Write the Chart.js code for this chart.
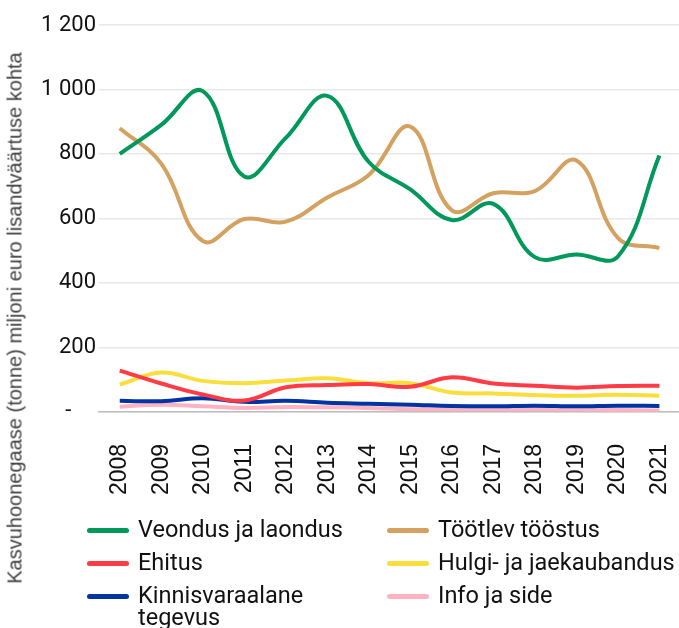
<!DOCTYPE html>
<html>
<head>
<meta charset="utf-8">
<script src="https://cdn.jsdelivr.net/npm/chart.js@4"></script>
<style>
    html, body { margin: 0; padding: 0; background: #fff; overflow: hidden; }
    #wrap { position: relative; width: 679px; height: 628px; overflow: hidden; }
    #chartBox { position: absolute; left: 0; top: 0; width: 719px; height: 527px; }
    #yTitle {
        position: absolute; left: 15px; top: 318px;
        transform: translate(-50%, -50%) rotate(-90deg);
        white-space: nowrap;
        font-family: "Liberation Sans", Arial, sans-serif;
        font-size: 20px; color: #404040;
    }
    #legend {
        position: absolute; left: 87px; top: 518px;
        display: grid; grid-template-columns: 300px 300px; row-gap: 11px;
        font-family: "Roboto", sans-serif;
        font-size: 23.5px; line-height: 22px; color: #111;
    }
    .item { display: flex; align-items: flex-start; }
    .swatch { width: 42px; height: 5px; border-radius: 3px; margin-top: 10px; margin-right: 9px; flex: none; }
    .col1 span { width: 230px; }
    .col2 span { white-space: nowrap; }
</style>
</head>
<body>
<div id="wrap">
    <div id="chartBox"><canvas id="ghgChart"></canvas></div>
    <div id="yTitle">Kasvuhoonegaase (tonne) miljoni euro lisandväärtuse kohta</div>
    <div id="legend"></div>
</div>
<script>
const years = ['2008', '2009', '2010', '2011', '2012', '2013', '2014', '2015', '2016', '2017', '2018', '2019', '2020', '2021'];
const yTickLabels = ['-', '200', '400', '600', '800', '1 000', '1 200'];

const veondus = [800, 890, 995, 730, 850, 980, 775, 690, 595, 645, 480, 488, 482, 795];
const tootlev = [880, 770, 530, 598, 590, 665, 735, 885, 625, 678, 685, 780, 540, 508];
const ehitus = [128, 88, 54, 35, 76, 83, 86, 78, 107, 88, 81, 75, 80, 81];
const kaubandus = [85, 122, 96, 89, 97, 104, 89, 89, 60, 57, 52, 50, 53, 50];
const kinnisvara = [34, 33, 42, 31, 34, 28, 25, 22, 18, 17, 19, 17, 19, 18];
const infoSide = [16, 22, 17, 12, 15, 14, 12, 8, 8, 8, 8, 7, 6, 4];

const seriesNames = ['Veondus ja laondus', 'Töötlev tööstus', 'Ehitus', 'Hulgi- ja jaekaubandus', 'Kinnisvaraalane tegevus', 'Info ja side'];
const seriesData = [veondus, tootlev, ehitus, kaubandus, kinnisvara, infoSide];
const seriesColors = ['#00985B', '#D4A160', '#FF3B45', '#F9DE3C', '#0034A3', '#FFB3C2'];

const datasets = seriesNames.map((name, i) => ({
    label: name,
    data: seriesData[i],
    borderColor: seriesColors[i],
    backgroundColor: seriesColors[i],
    borderWidth: 4,
    pointRadius: 0,
    tension: 0.4,
    fill: false
}));

// green and tan drawn on top of the small series
datasets[0].order = 0;
datasets[1].order = 1;

const ctx = document.getElementById('ghgChart').getContext('2d');
const chart = new Chart(ctx, {
    type: 'line',
    data: { labels: years, datasets: datasets },
    options: {
        responsive: true,
        maintainAspectRatio: false,
        animation: false,
        layout: { padding: { left: 30, top: 25, right: 0, bottom: 0 } },
        plugins: { legend: { display: false }, tooltip: { enabled: false } },
        scales: {
            x: {
                offset: true,
                grid: { display: false, drawTicks: false },
                border: { display: true, color: '#bdbdbd', width: 1.5 },
                ticks: {
                    minRotation: 90, maxRotation: 90, padding: 32,
                    color: '#111',
                    font: { family: 'Liberation Sans, Arial, sans-serif', size: 23 }
                }
            },
            y: {
                min: 0, max: 1200,
                afterFit: (scale) => { scale.width = 69; },
                grid: { color: '#e8e8e8', lineWidth: 1.5, drawTicks: false },
                border: { display: false },
                ticks: {
                    stepSize: 200, padding: 3,
                    color: '#111',
                    font: { family: 'Roboto, sans-serif', size: 22 },
                    callback: (v) => v === 0 ? yTickLabels[0] + '\u2007\u2007' : yTickLabels[v / 200]
                }
            }
        }
    }
});

const legend = document.getElementById('legend');
seriesNames.forEach((name, i) => {
    const item = document.createElement('div');
    item.className = 'item ' + (i % 2 === 0 ? 'col1' : 'col2');
    const sw = document.createElement('div');
    sw.className = 'swatch';
    sw.style.background = seriesColors[i];
    const txt = document.createElement('span');
    txt.textContent = name;
    item.appendChild(sw);
    item.appendChild(txt);
    legend.appendChild(item);
});
</script>
</body>
</html>
